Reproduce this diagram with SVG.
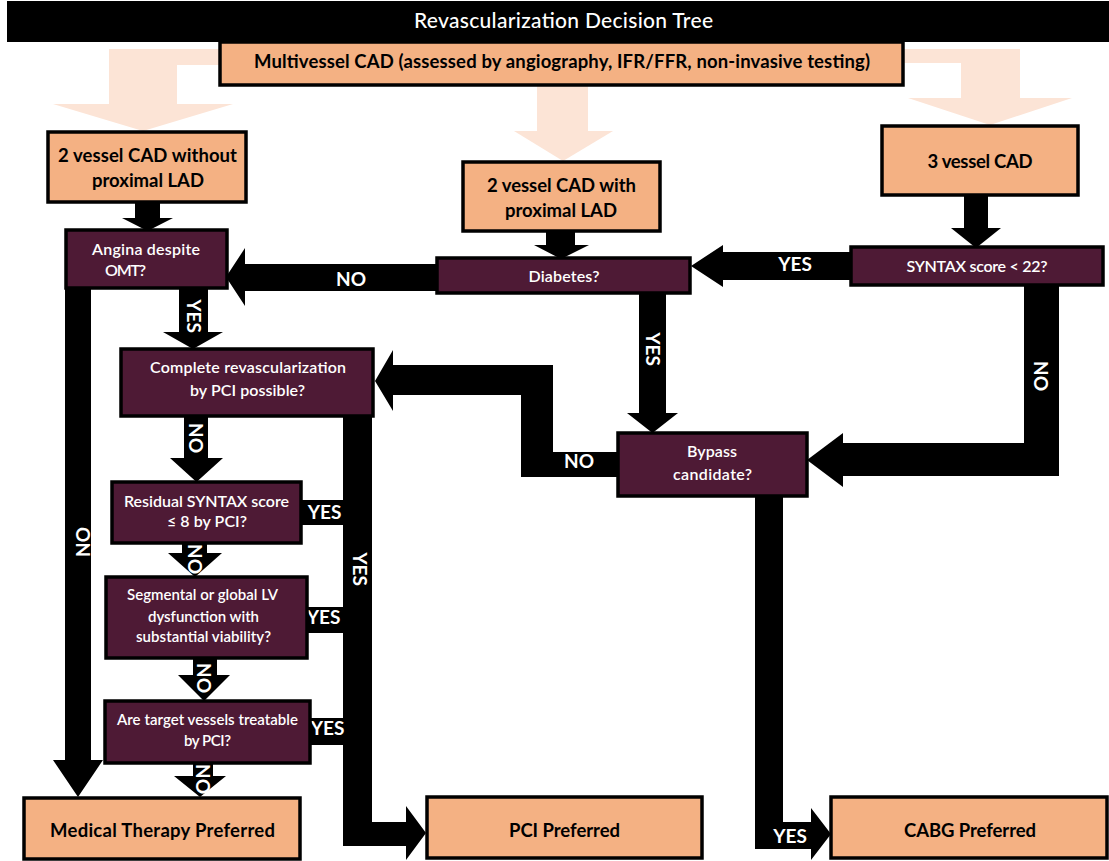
<svg xmlns="http://www.w3.org/2000/svg" width="1109" height="861" viewBox="0 0 1109 861">
<style>
.peach{fill:#F4B183;stroke:#000;stroke-width:3.5}
.maroon{fill:#4E1A35;stroke:#000;stroke-width:3.5}
.fade{fill:#FCE4D6}
.arr{fill:#000}
.tb{font-family:Lato,"Liberation Sans",sans-serif;font-weight:700;fill:#000;text-anchor:middle;font-size:18.5px}
.tq{font-family:Lato,"Liberation Sans",sans-serif;font-weight:600;fill:#fff;text-anchor:middle;font-size:16px}
.ts{font-size:15px}
.lbl{font-family:Lato,"Liberation Sans",sans-serif;font-weight:700;fill:#fff;text-anchor:middle;font-size:19px}
.title{font-family:Lato,"Liberation Sans",sans-serif;font-weight:500;fill:#fff;text-anchor:middle;font-size:21px}
</style>
<rect x="0" y="0" width="1109" height="861" fill="#fff"/>
<g id="title">
<rect x="7" y="1" width="1102" height="41" fill="#000"/>
<text class="title" x="563.5" y="28" textLength="299">Revascularization Decision Tree</text>
</g>
<g id="faded-arrows">
<polygon class="fade" points="109,49 222,49 222,65 177,65 177,104 233,104 143,131 53,104 109,104"/>
<polygon class="fade" points="537,85 588,85 588,131 613,131 563,161 514,131 537,131"/>
<polygon class="fade" points="900,49 1020,49 1020,98 1072,98 990,125 908,98 961,98 961,63 900,63"/>
</g>
<g id="connectors">
<polygon class="arr" points="135,202 160,202 160,218 173,218 147.5,231 122,218 135,218"/>
<polygon class="arr" points="546,231 575,231 575,245 589,245 561,259 534,245 546,245"/>
<polygon class="arr" points="964,195 988,195 988,228 1001,228 976,248 951,228 964,228"/>
<polygon class="arr" points="851,252 723,252 723,245 691,266 723,287 723,280 851,280"/>
<polygon class="arr" points="437,264 245,264 245,248 226,277 245,306 245,291 437,291"/>
<polygon class="arr" points="179,288 208,288 208,332 223,332 193,349 163,332 179,332"/>
<polygon class="arr" points="65,288 91,288 91,760 103,760 78,797 53,760 65,760"/>
<polygon class="arr" points="184,416 208,416 208,458 223,458 196.5,482 170,458 184,458"/>
<polygon class="arr" points="343,416 372,416 372,822 406,822 406,806 426,833 406,860 406,846 343,846"/>
<rect class="arr" x="299" y="500" width="46" height="25"/>
<rect class="arr" x="305" y="607" width="40" height="26"/>
<rect class="arr" x="309" y="718" width="36" height="27"/>
<polygon class="arr" points="182,543 207,543 207,553 222,553 195,577 168,553 182,553"/>
<polygon class="arr" points="193,658 217,658 217,675 230,675 204,701 178,675 193,675"/>
<polygon class="arr" points="193,763 213,763 213,776 226,776 200,797 174,776 193,776"/>
<polygon class="arr" points="639,293 666,293 666,413 678,413 652.5,433 627,413 639,413"/>
<polygon class="arr" points="1024,285 1059,285 1059,476 843,476 843,487 807,460 843,433 843,443 1024,443"/>
<polygon class="arr" points="618,452 553,452 553,365 393,365 393,350 375,381 393,411 393,395 521,395 521,477 618,477"/>
<polygon class="arr" points="755,496 783,496 783,822 811,822 811,808 831,834 811,860 811,849 755,849"/>
<text class="lbl" x="351" y="286">NO</text>
<text class="lbl" x="795" y="271">YES</text>
<text class="lbl" transform="translate(194,316) rotate(90)" y="7">YES</text>
<text class="lbl" transform="translate(196,438) rotate(90)" y="7">NO</text>
<text class="lbl" transform="translate(83,542) rotate(-90)" y="7">NO</text>
<text class="lbl" transform="translate(360,569) rotate(90)" y="7">YES</text>
<text class="lbl" x="324.5" y="519">YES</text>
<text class="lbl" transform="translate(195,559) rotate(90)" y="7">NO</text>
<text class="lbl" x="323.5" y="624">YES</text>
<text class="lbl" transform="translate(204,678) rotate(90)" y="7">NO</text>
<text class="lbl" x="327.5" y="735">YES</text>
<text class="lbl" transform="translate(203,779) rotate(90)" y="7">NO</text>
<text class="lbl" transform="translate(653,349) rotate(90)" y="7">YES</text>
<text class="lbl" transform="translate(1041,376) rotate(90)" y="7">NO</text>
<text class="lbl" x="579" y="468">NO</text>
<text class="lbl" x="790" y="843">YES</text>
</g>
<g id="n-multivessel">
<rect class="peach" x="220" y="42" width="683" height="43"/>
<text class="tb" x="562" y="68" textLength="616">Multivessel CAD (assessed by angiography, IFR/FFR, non-invasive testing)</text>
</g>
<g id="n-2v-without">
<rect class="peach" x="48" y="132" width="198" height="70"/>
<text class="tb" x="147.5" y="162" textLength="179">2 vessel CAD without</text>
<text class="tb" x="148" y="187" textLength="112">proximal LAD</text>
</g>
<g id="n-2v-with">
<rect class="peach" x="463" y="162" width="197" height="69"/>
<text class="tb" x="561.5" y="192" textLength="149">2 vessel CAD with</text>
<text class="tb" x="561" y="217" textLength="112">proximal LAD</text>
</g>
<g id="n-3v">
<rect class="peach" x="882" y="126" width="196" height="69"/>
<text class="tb" x="980" y="168" textLength="105">3 vessel CAD</text>
</g>
<g id="n-angina">
<rect class="maroon" x="66" y="230" width="161" height="58"/>
<text class="tq" x="146" y="255" textLength="108">Angina despite</text>
<text class="tq" x="125.5" y="276" textLength="41">OMT?</text>
</g>
<g id="n-diabetes">
<rect class="maroon" x="437" y="258" width="253" height="35"/>
<text class="tq" x="564" y="282" textLength="71">Diabetes?</text>
</g>
<g id="n-syntax">
<rect class="maroon" x="851" y="247" width="252" height="38"/>
<text class="tq" x="977" y="272" textLength="141">SYNTAX score &lt; 22?</text>
</g>
<g id="n-complete">
<rect class="maroon" x="121" y="349" width="252" height="67"/>
<text class="tq" x="248" y="373" textLength="196">Complete revascularization</text>
<text class="tq" x="247.5" y="396" textLength="115">by PCI possible?</text>
</g>
<g id="n-bypass">
<rect class="maroon" x="618" y="433" width="189" height="63"/>
<text class="tq" x="712" y="457" textLength="50">Bypass</text>
<text class="tq" x="712.5" y="480" textLength="79">candidate?</text>
</g>
<g id="n-residual">
<rect class="maroon" x="112" y="482" width="189" height="61"/>
<text class="tq" x="206.5" y="507" textLength="165">Residual SYNTAX score</text>
<text class="tq" x="207" y="527" textLength="80">≤ 8 by PCI?</text>
</g>
<g id="n-segmental">
<rect class="maroon" x="106" y="577" width="201" height="81"/>
<text class="tq ts" x="202.5" y="600" textLength="151">Segmental or global LV</text>
<text class="tq ts" x="203.5" y="622" textLength="111">dysfunction with</text>
<text class="tq ts" x="203.5" y="642" textLength="135">substantial viability?</text>
</g>
<g id="n-target">
<rect class="maroon" x="105" y="701" width="205" height="62"/>
<text class="tq ts" x="207.5" y="725" textLength="181">Are target vessels treatable</text>
<text class="tq ts" x="207.5" y="746" textLength="47">by PCI?</text>
</g>
<g id="n-medical">
<rect class="peach" x="24" y="798" width="276" height="61"/>
<text class="tb" x="162.5" y="837" textLength="225">Medical Therapy Preferred</text>
</g>
<g id="n-pci">
<rect class="peach" x="427" y="797" width="275" height="61"/>
<text class="tb" x="564.5" y="837" textLength="111">PCI Preferred</text>
</g>
<g id="n-cabg">
<rect class="peach" x="831" y="797" width="276" height="61"/>
<text class="tb" x="970" y="837" textLength="132">CABG Preferred</text>
</g>
</svg>
